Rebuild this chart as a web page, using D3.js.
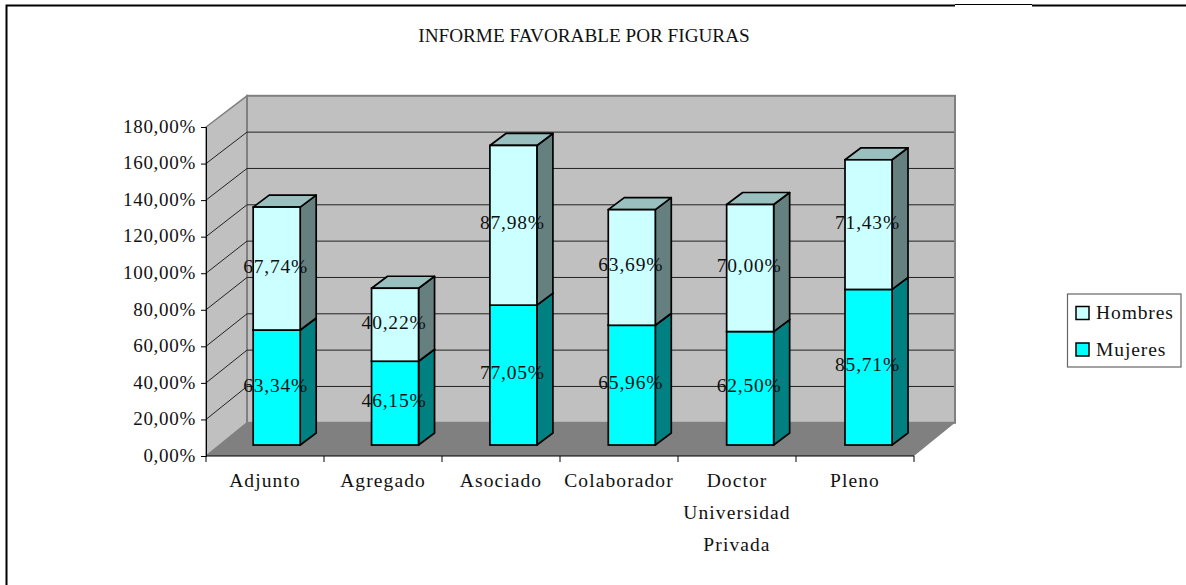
<!DOCTYPE html>
<html>
<head>
<meta charset="utf-8">
<script src="https://d3js.org/d3.v7.min.js"></script>
<style>
  html, body { margin: 0; padding: 0; background: #fff; }
  svg { display: block; }
  text { font-family: "Liberation Serif", serif; fill: #111; }
</style>
</head>
<body>
<div id="chart"></div>
<script>
// values
const categories = ["Adjunto", "Agregado", "Asociado", "Colaborador", "Doctor Universidad Privada", "Pleno"]
const mujeres = [63.34, 46.15, 77.05, 65.96, 62.50, 85.71]
const hombres = [67.74, 40.22, 87.98, 63.69, 70.00, 71.43]
const seriesNames = ["Hombres", "Mujeres"]
const yTicks = [0, 20, 40, 60, 80, 100, 120, 140, 160, 180]

const width = 1186, height = 585
const fmt = v => v.toFixed(2).replace(".", ",") + "%"

// front edge of the box
const x = d3.scaleBand().domain(categories).range([206, 914])
const y = d3.scaleLinear().domain([0, 180]).range([456, 127])
// back wall, a bit compressed (the 3d view has some perspective)
const yBack = d3.scaleLinear().domain([0, 180]).range([422.8, 95.8])
const xBack = [247, 955]
// bars stand in the middle of the floor
const xBar = d3.scaleBand().domain(categories).range([217.5, 927.7])
const yBar = d3.scaleLinear().domain([0, 180]).range([445, 118.3])
const barDepth = { dx: 16, dy: -12 }
const barWidth = 47

const svg = d3.select("#chart").append("svg").attr("width", width).attr("height", height)

const pts = a => a.map(p => p.join(",")).join(" ")

// frame of the chart area, only left and top are in the picture
svg.append("path").attr("d", "M6.5,585V5.5H955").attr("fill", "none").attr("stroke", "#000").attr("stroke-width", 2)
svg.append("path").attr("d", "M955,4.5H1032").attr("fill", "none").attr("stroke", "#000").attr("stroke-width", 1)
svg.append("path").attr("d", "M1032,5.5H1186").attr("fill", "none").attr("stroke", "#000").attr("stroke-width", 2)

svg.append("text").attr("x", 584).attr("y", 42).attr("text-anchor", "middle")
  .style("font-size", "19.2px").text("INFORME FAVORABLE POR FIGURAS")

const x0 = x.range()[0], x1 = x.range()[1]

// side wall
svg.append("polygon")
  .attr("points", pts([[x0, y(0)], [xBack[0], yBack(0)], [xBack[0], yBack(180)], [x0, y(180)]]))
  .attr("fill", "#c0c0c0").attr("stroke", "#808080").attr("stroke-width", 1.5)
// back wall
svg.append("rect")
  .attr("x", xBack[0]).attr("y", yBack(180))
  .attr("width", xBack[1] - xBack[0]).attr("height", yBack(0) - yBack(180))
  .attr("fill", "#c0c0c0").attr("stroke", "#808080").attr("stroke-width", 2)
// floor
svg.append("polygon")
  .attr("points", pts([[x0, y(0)], [x1, y(0)], [xBack[1], yBack(0)], [xBack[0], yBack(0)]]))
  .attr("fill", "#808080")

// gridlines
svg.append("g").selectAll("path")
  .data(yTicks.filter(d => d > 0 && d < 180))
  .enter().append("path")
  .attr("d", d => `M${x0},${y(d)}L${xBack[0]},${yBack(d)}H${xBack[1] - 1}`)
  .attr("fill", "none").attr("stroke", "#222").attr("stroke-width", 1)

// axes
const yAxis = d3.axisLeft(y).tickValues(yTicks).tickFormat(fmt).tickSize(5).tickPadding(5)
const gy = svg.append("g").attr("transform", `translate(${x0},0)`).call(yAxis)
gy.select(".domain").attr("stroke", "#000")
gy.selectAll("text").style("font-size", "19px").style("letter-spacing", "0.7px").attr("dy", "0.28em")

svg.append("path").attr("d", `M${x0},${y(0)}H${x1}`).attr("stroke", "#000").attr("stroke-width", 1)
svg.append("g").selectAll("line")
  .data(categories.map(c => x(c)).concat(x1))
  .enter().append("line")
  .attr("x1", d => d).attr("x2", d => d)
  .attr("y1", y(0)).attr("y2", y(0) + 6)
  .attr("stroke", "#000")

// category labels, wrapped like the original
const labelLines = c => c.startsWith("Doctor") ? c.split(" ") : [c]
const catLabels = svg.append("g").selectAll("text").data(categories).enter().append("text")
  .attr("text-anchor", "middle")
  .style("font-size", "19.5px").style("letter-spacing", "1.1px")
catLabels.selectAll("tspan").data(d => labelLines(d).map(l => ({ l, c: d }))).enter().append("tspan")
  .attr("x", d => x(d.c) + x.bandwidth() / 2)
  .attr("y", (d, i) => 487 + i * 32)
  .text(d => d.l)

// bars: stacked boxes drawn from base up
const colors = {
  Mujeres: { front: "#00ffff", side: "#008080", top: "#00bfbf" },
  Hombres: { front: "#ccffff", side: "#668080", top: "#99bfbf" }
}
const stack = categories.map((c, i) => ({
  c,
  segs: [
    { name: "Mujeres", from: 0, to: mujeres[i] },
    { name: "Hombres", from: mujeres[i], to: mujeres[i] + hombres[i] }
  ]
}))

const bars = svg.append("g").selectAll("g").data(stack).enter().append("g")
bars.each(function (d) {
  const g = d3.select(this)
  const left = xBar(d.c) + xBar.bandwidth() / 2 - barWidth / 2
  const right = left + barWidth
  d.segs.forEach(s => {
    const yb = yBar(s.from), yt = yBar(s.to)
    const col = colors[s.name]
    g.append("polygon")
      .attr("points", pts([[right, yb], [right + barDepth.dx, yb + barDepth.dy], [right + barDepth.dx, yt + barDepth.dy], [right, yt]]))
      .attr("fill", col.side).attr("stroke", "#000").attr("stroke-width", 1.7).attr("stroke-linejoin", "round")
    g.append("polygon")
      .attr("points", pts([[left, yt], [right, yt], [right + barDepth.dx, yt + barDepth.dy], [left + barDepth.dx, yt + barDepth.dy]]))
      .attr("fill", col.top).attr("stroke", "#000").attr("stroke-width", 1.7).attr("stroke-linejoin", "round")
    g.append("rect")
      .attr("x", left).attr("y", yt).attr("width", barWidth).attr("height", yb - yt)
      .attr("fill", col.front).attr("stroke", "#000").attr("stroke-width", 1.7)
  })
})

// value labels on top of everything
bars.each(function (d) {
  const g = d3.select(this)
  d.segs.forEach(s => {
    g.append("text")
      .attr("x", xBar(d.c) + xBar.bandwidth() / 2 - 1)
      .attr("y", yBar((s.from + s.to) / 2) + 4)
      .attr("text-anchor", "middle")
      .style("font-size", "19.5px").style("letter-spacing", "0.8px")
      .text(fmt(s.to - s.from))
  })
})

// legend
const legend = svg.append("g")
legend.append("rect").attr("x", 1067.5).attr("y", 294).attr("width", 113.5).attr("height", 73)
  .attr("fill", "#fff").attr("stroke", "#666").attr("stroke-width", 1.2)
const legendRow = d3.scalePoint().domain(seriesNames).range([313, 349.5])
seriesNames.forEach(n => {
  legend.append("rect").attr("x", 1076).attr("y", legendRow(n) - 6.5).attr("width", 13).attr("height", 13)
    .attr("fill", colors[n].front).attr("stroke", "#000").attr("stroke-width", 1.5)
  legend.append("text").attr("x", 1096).attr("y", legendRow(n) + 6)
    .style("font-size", "19.5px").style("letter-spacing", "0.9px").text(n)
})
</script>
</body>
</html>
